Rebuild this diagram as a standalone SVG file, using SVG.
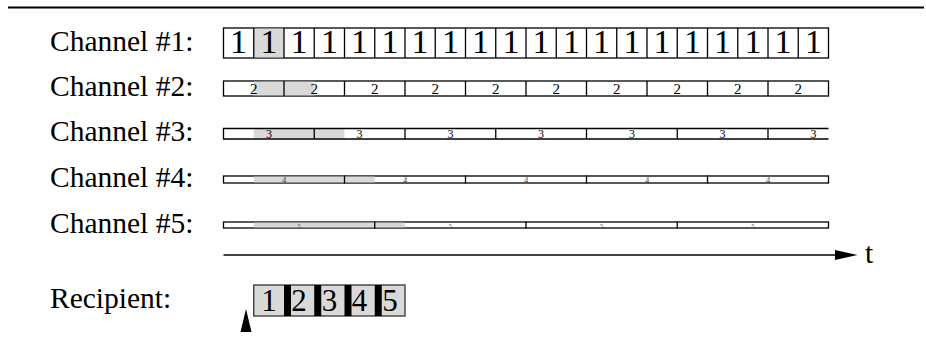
<svg xmlns="http://www.w3.org/2000/svg" width="926" height="349" viewBox="0 0 926 349">
<style>
.lbl{font-size:29.5px;fill:#000}
.num{fill:#000;text-anchor:middle}
.box{fill:#fff;stroke:#000;stroke-width:1.3}
.line{fill:none;stroke:#000;stroke-width:1.3}
.shade{fill:#d9d9d9;stroke:none}
.bar{fill:#000;stroke:none}
</style>
<rect width="926" height="349" fill="#fff"/>
<line x1="8" y1="7.5" x2="924" y2="7.5" stroke="#000" stroke-width="2"/>
<g font-family="'Liberation Serif', 'Times New Roman', Times, 'DejaVu Serif', serif">
<g id="channel1">
<text class="lbl" x="50" y="51">Channel #1:</text>
<rect class="box" x="223.5" y="28" width="605" height="30"/>
<rect class="shade" x="253.75" y="28.6" width="30.25" height="28.8"/>
<path class="line" d="M253.75 28V58M284 28V58M314.25 28V58M344.5 28V58M374.75 28V58M405 28V58M435.25 28V58M465.5 28V58M495.75 28V58M526 28V58M556.25 28V58M586.5 28V58M616.75 28V58M647 28V58M677.25 28V58M707.5 28V58M737.75 28V58M768 28V58M798.25 28V58"/>
<g class="num" font-size="34">
<text x="238.6" y="53">1</text><text x="268.9" y="53">1</text><text x="299.1" y="53">1</text><text x="329.4" y="53">1</text><text x="359.6" y="53">1</text><text x="389.9" y="53">1</text><text x="420.1" y="53">1</text><text x="450.4" y="53">1</text><text x="480.6" y="53">1</text><text x="510.9" y="53">1</text><text x="541.1" y="53">1</text><text x="571.4" y="53">1</text><text x="601.6" y="53">1</text><text x="631.9" y="53">1</text><text x="662.1" y="53">1</text><text x="692.4" y="53">1</text><text x="722.6" y="53">1</text><text x="752.9" y="53">1</text><text x="783.1" y="53">1</text><text x="813.4" y="53">1</text>
</g>
</g>

<g id="channel2">
<text class="lbl" x="50" y="96">Channel #2:</text>
<rect class="box" x="223.5" y="81" width="605" height="15"/>
<rect class="shade" x="253.75" y="81.6" width="60.5" height="13.8"/>
<path class="line" d="M284 81V96M344.5 81V96M405 81V96M465.5 81V96M526 81V96M586.5 81V96M647 81V96M707.5 81V96M768 81V96"/>
<g class="num" font-size="15">
<text x="253.75" y="94">2</text><text x="314.25" y="94">2</text><text x="374.75" y="94">2</text><text x="435.25" y="94">2</text><text x="495.75" y="94">2</text><text x="556.25" y="94">2</text><text x="616.75" y="94">2</text><text x="677.25" y="94">2</text><text x="737.75" y="94">2</text><text x="798.25" y="94">2</text>
</g>
</g>

<g id="channel3">
<text class="lbl" x="50" y="141">Channel #3:</text>
<rect x="223.5" y="128.5" width="605" height="10.5" fill="#fff"/>
<rect class="shade" x="253.75" y="129" width="90.75" height="9.5"/>
<path class="line" d="M828.5 128.5H223.5V139H828.5M314.25 128.5V139M405 128.5V139M495.75 128.5V139M586.5 128.5V139M677.25 128.5V139M768 128.5V139"/>
<g class="num" font-size="12">
<text x="268.9" y="138">3</text><text x="359.6" y="138">3</text><text x="450.4" y="138">3</text><text x="541.1" y="138">3</text><text x="631.9" y="138">3</text><text x="722.6" y="138">3</text><text x="813.4" y="138">3</text>
</g>
</g>

<g id="channel4">
<text class="lbl" x="50" y="187">Channel #4:</text>
<rect class="box" x="223.5" y="176" width="605" height="7"/>
<rect class="shade" x="253.75" y="176.6" width="121" height="5.8"/>
<path class="line" d="M344.5 175.5V183.5M465.5 175.5V183.5M586.5 175.5V183.5M707.5 175.5V183.5"/>
<g class="num" font-size="8.5">
<text x="284" y="182.5" fill="#444">4</text><text x="405" y="182.5" fill="#444">4</text><text x="526" y="182.5" fill="#444">4</text><text x="647" y="182.5" fill="#444">4</text><text x="768" y="182.5" fill="#444">4</text>
</g>
</g>

<g id="channel5">
<text class="lbl" x="50" y="233">Channel #5:</text>
<rect class="box" x="223.5" y="222" width="605" height="6"/>
<rect class="shade" x="253.75" y="222.6" width="151.25" height="4.8"/>
<path class="line" d="M374.75 221.5V228.5M526 221.5V228.5M677.25 221.5V228.5"/>
<g class="num" font-size="6.5">
<text x="299.1" y="227.5" fill="#555">5</text><text x="450.4" y="227.5" fill="#555">5</text><text x="601.6" y="227.5" fill="#555">5</text><text x="752.9" y="227.5" fill="#555">5</text>
</g>
</g>

<g id="recipient">
<text class="lbl" x="50" y="308">Recipient:</text>
<rect x="253.75" y="285" width="151.25" height="31" fill="#d9d9d9" stroke="#333" stroke-width="1.3"/>
<rect class="bar" x="284" y="285" width="7" height="31"/>
<rect class="bar" x="314.25" y="285" width="7" height="31"/>
<rect class="bar" x="344.5" y="285" width="7" height="31"/>
<rect class="bar" x="374.75" y="285" width="7" height="31"/>
<g class="num" font-size="31">
<text x="268.9" y="311">1</text><text x="299.1" y="311">2</text><text x="329.4" y="311">3</text><text x="359.6" y="311">4</text><text x="389.9" y="311">5</text>
</g>
</g>

<g id="time-axis">
<text class="lbl" x="865" y="263">t</text>
</g>
</g>
<g id="connectors">
<line x1="223.5" y1="255" x2="837" y2="255" stroke="#000" stroke-width="1.3"/>
<polygon points="835,250 857.5,255 835,260" fill="#000"/>
<polygon points="246,309 251.5,332 240.5,332" fill="#000"/>
</g>
</svg>
